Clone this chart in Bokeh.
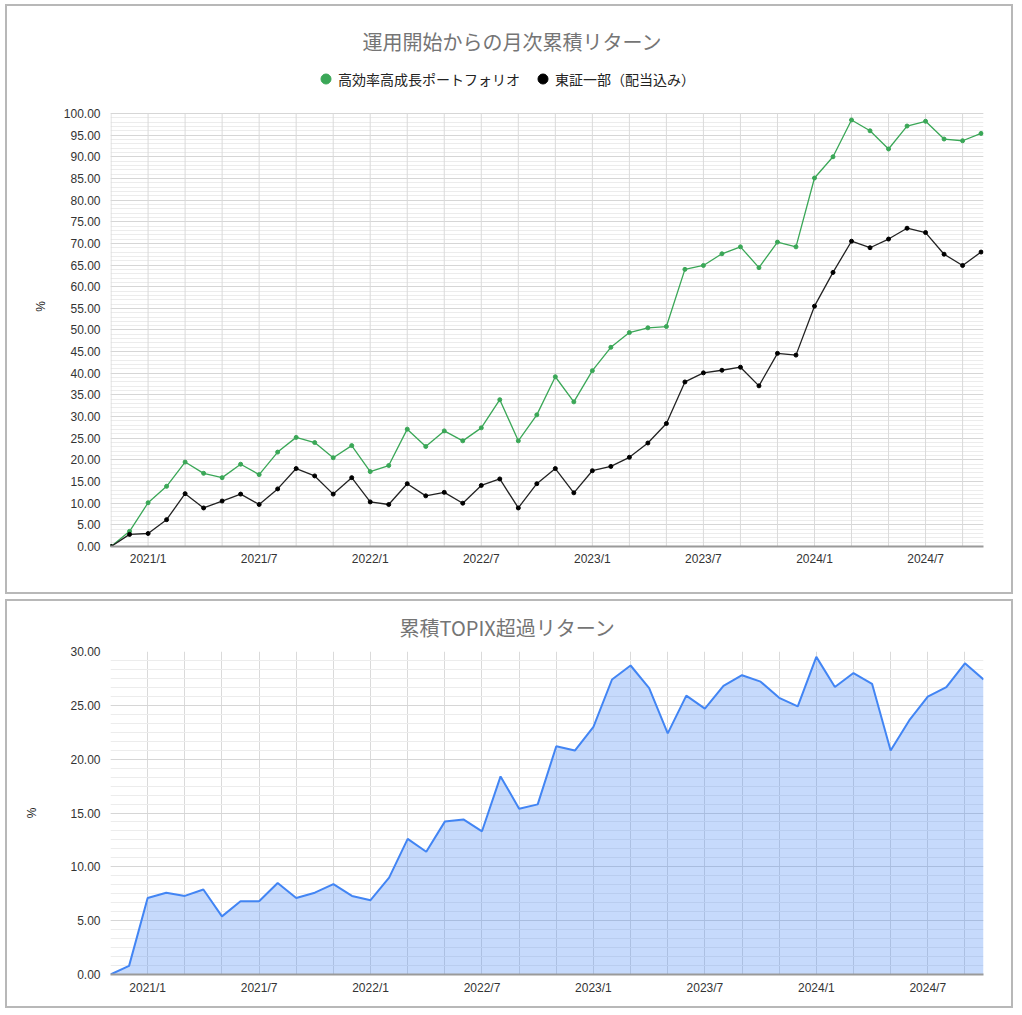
from bokeh.plotting import figure
from bokeh.layouts import column
from bokeh.models import (Range1d, FixedTicker, NumeralTickFormatter, Legend, LegendItem,
                          ColumnDataSource, Title)
from bokeh.embed import file_html
from bokeh.resources import INLINE

# ---- data ----
months = ["2020/11", "2020/12",
          "2021/1", "2021/2", "2021/3", "2021/4", "2021/5", "2021/6",
          "2021/7", "2021/8", "2021/9", "2021/10", "2021/11", "2021/12",
          "2022/1", "2022/2", "2022/3", "2022/4", "2022/5", "2022/6",
          "2022/7", "2022/8", "2022/9", "2022/10", "2022/11", "2022/12",
          "2023/1", "2023/2", "2023/3", "2023/4", "2023/5", "2023/6",
          "2023/7", "2023/8", "2023/9", "2023/10", "2023/11", "2023/12",
          "2024/1", "2024/2", "2024/3", "2024/4", "2024/5", "2024/6",
          "2024/7", "2024/8", "2024/9", "2024/10"]

portfolio = [0.0, 3.5,
             10.1, 13.9, 19.5, 16.9, 15.9, 19.0,
             16.6, 21.8, 25.2, 24.0, 20.5, 23.3,
             17.3, 18.7, 27.1, 23.1, 26.7, 24.4,
             27.4, 33.9, 24.4, 30.4, 39.2, 33.4,
             40.6, 46.0, 49.4, 50.5, 50.8, 64.0,
             64.9, 67.6, 69.2, 64.4, 70.3, 69.2,
             85.1, 90.0, 98.5, 96.0, 91.8, 97.1,
             98.2, 94.1, 93.7, 95.4]

topix = [0.0, 2.8,
         3.0, 6.2, 12.2, 8.9, 10.5, 12.1,
         9.7, 13.3, 18.0, 16.3, 12.1, 15.9,
         10.3, 9.7, 14.5, 11.7, 12.5, 10.0,
         14.1, 15.6, 8.9, 14.5, 18.0, 12.4,
         17.5, 18.5, 20.6, 23.9, 28.4, 38.0,
         40.1, 40.7, 41.4, 37.1, 44.6, 44.2,
         55.5, 63.3, 70.5, 69.0, 71.0, 73.5,
         72.5, 67.5, 64.9, 68.0]

excess = [0.0, 0.8,
          7.1, 7.6, 7.3, 7.9, 5.4, 6.8,
          6.8, 8.5, 7.1, 7.6, 8.4, 7.3,
          6.9, 9.0, 12.6, 11.4, 14.2, 14.4,
          13.3, 18.4, 15.4, 15.8, 21.2, 20.8,
          23.0, 27.4, 28.7, 26.6, 22.4, 25.9,
          24.7, 26.8, 27.8, 27.2, 25.7, 24.9,
          29.5, 26.7, 28.0, 27.0, 20.8, 23.6,
          25.8, 26.7, 28.9, 27.4]

label_months = ["2021/1", "2021/7", "2022/1", "2022/7", "2023/1", "2023/7", "2024/1", "2024/7"]

title1 = "運用開始からの月次累積リターン"
title2 = "累積TOPIX超過リターン"
series_names = ["高効率高成長ポートフォリオ", "東証一部（配当込み）"]

# ---- styling ----
CJK = "Noto Sans CJK JP"
LAT = "Liberation Sans"
GREEN = "#3aa757"
BLACK = "#222222"
BLUE = "#4285f4"
BOX = "2px solid #b8b8b8"
VGRID = "#dadada"

idx = list(range(len(months)))
label_idx = [months.index(m) for m in label_months]
grid_idx = idx[::2]


def style_axes(p, ymax, ystep, minor, label_standoff):
    p.xaxis.ticker = FixedTicker(ticks=label_idx)
    p.xaxis.major_label_overrides = {i: months[i] for i in label_idx}
    p.xgrid.ticker = FixedTicker(ticks=grid_idx)
    p.xgrid.grid_line_color = VGRID
    p.yaxis.ticker = FixedTicker(ticks=[v * ystep for v in range(int(ymax / ystep) + 1)],
                                 minor_ticks=minor)
    p.yaxis.formatter = NumeralTickFormatter(format="0.00")
    p.ygrid.grid_line_color = "#d6d6d6"
    p.ygrid.minor_grid_line_color = "#ececec"
    for ax in (p.xaxis[0], p.yaxis[0]):
        ax.major_tick_line_color = None
        ax.minor_tick_line_color = None
        ax.major_tick_out = 0
        ax.major_tick_in = 0
        ax.major_label_text_font = LAT
        ax.major_label_text_font_size = "12px"
        ax.major_label_text_color = "#333333"
    p.yaxis.axis_line_color = None
    p.xaxis.axis_line_color = "#9a9a9a"
    p.xaxis.axis_line_width = 2
    p.xaxis.major_label_standoff = 5
    p.yaxis.major_label_standoff = 6
    p.yaxis.axis_label = "%"
    p.yaxis.axis_label_text_font = LAT
    p.yaxis.axis_label_text_font_size = "12px"
    p.yaxis.axis_label_text_font_style = "normal"
    p.yaxis.axis_label_text_color = "#222222"
    p.yaxis.axis_label_standoff = label_standoff
    p.outline_line_color = None


# ---- top chart ----
# the plotting frame is extended upward (y up to ~110.85) so that the legend can sit inside it;
# the value axis itself only runs 0..100.
YMAX1 = 100
p1 = figure(width=1008, height=590, output_backend="svg", toolbar_location=None,
            x_range=Range1d(-0.03, 47.13), y_range=Range1d(0, 110.85),
            min_border_left=103, min_border_right=31, min_border_top=60, min_border_bottom=50,
            title=None, margin=(4, 0, 0, 5), styles={"border": BOX})
style_axes(p1, YMAX1, 5, list(range(0, YMAX1 + 1)), 13)
p1.xgrid.grid_line_color = None
p1.segment(x0=grid_idx, y0=[0] * len(grid_idx), x1=grid_idx, y1=[YMAX1] * len(grid_idx),
           line_color=VGRID, line_width=1)

src = ColumnDataSource(dict(x=idx, pf=portfolio, tp=topix))
p1.line("x", "pf", source=src, line_color=GREEN, line_width=1.3)
r_pf = p1.scatter("x", "pf", source=src, size=4, color=GREEN)
p1.line("x", "tp", source=src, line_color=BLACK, line_width=1.3)
r_tp = p1.scatter("x", "tp", source=src, size=4, color="#000000")

legend = Legend(items=[LegendItem(label=series_names[0], renderers=[r_pf]),
                       LegendItem(label=series_names[1], renderers=[r_tp])],
                orientation="horizontal", location=(203, 455),
                glyph_width=25, glyph_height=25, label_standoff=0, spacing=10,
                padding=0, margin=0, border_line_color=None, background_fill_alpha=0,
                label_text_font=CJK, label_text_font_size="14px", label_text_color="#222222",
                label_height=25)
p1.add_layout(legend, "center")

t1 = Title(text=title1, align="left", offset=252, standoff=22,
           text_font=CJK, text_font_size="20px", text_font_style="normal", text_color="#757575")
p1.add_layout(t1, "above")

# ---- bottom chart ----
p2 = figure(width=1008, height=409, output_backend="svg", toolbar_location=None,
            x_range=Range1d(0, 47.0), y_range=Range1d(0, 30),
            min_border_left=98, min_border_right=32, min_border_top=50, min_border_bottom=36,
            title=None, margin=(5, 0, 0, 5), styles={"border": BOX})
style_axes(p2, 30, 5, [i * 5 / 6 for i in range(37)], 28)
p2.xaxis.major_label_standoff = 6

src2 = ColumnDataSource(dict(x=idx, ex=excess, zero=[0] * len(idx)))
p2.varea(x="x", y1="zero", y2="ex", source=src2, fill_color=BLUE, fill_alpha=0.3)
p2.line("x", "ex", source=src2, line_color=BLUE, line_width=2)

t2 = Title(text=title2, align="left", offset=289, standoff=19,
           text_font=CJK, text_font_size="20px", text_font_style="normal", text_color="#757575")
p2.add_layout(t2, "above")

layout = column(p1, p2, spacing=0)
open("out.html", "w").write(file_html(layout, INLINE))
